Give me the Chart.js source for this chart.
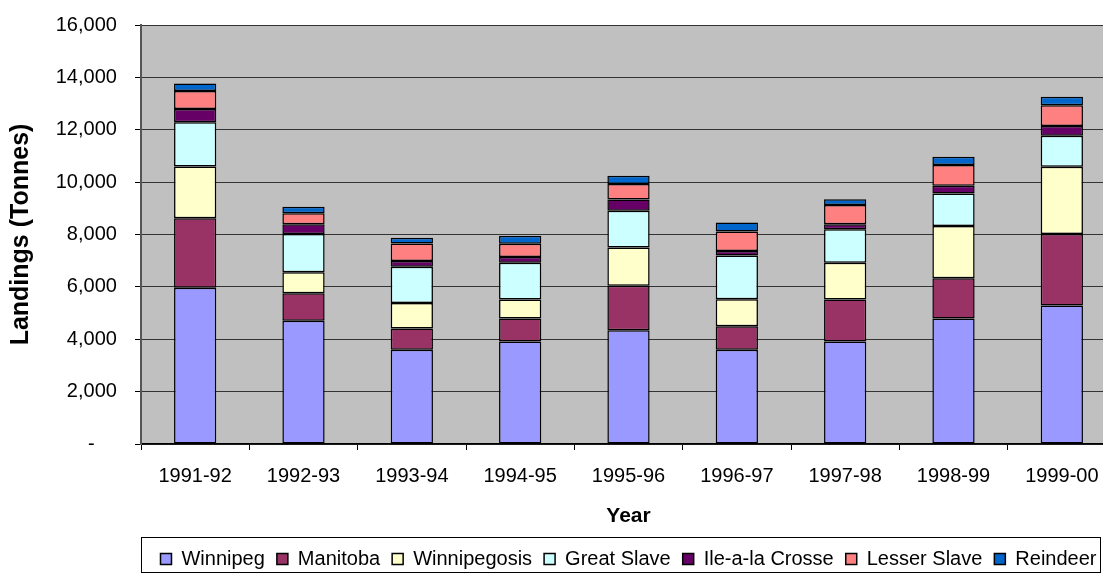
<!DOCTYPE html>
<html>
<head>
<meta charset="utf-8">
<script src="https://cdn.jsdelivr.net/npm/chart.js@4/dist/chart.umd.min.js"></script>
<style>
  body { margin: 0; background: #fff; overflow: hidden; }
  #wrap { width: 1103px; height: 581px; overflow: hidden; }
</style>
</head>
<body>
<div id="wrap"><canvas id="landings" width="1120" height="581"></canvas></div>
<script>
const years = ["1991-92", "1992-93", "1993-94", "1994-95", "1995-96", "1996-97", "1997-98", "1998-99", "1999-00"];

// tonnes per lake
const winnipeg     = [5970, 4710, 3600, 3910, 4340, 3600, 3910, 4790, 5290];
const manitoba     = [2650, 1050,  810,  880, 1700,  900, 1610, 1540, 2730];
const winnipegosis = [1980,  800,  970,  730, 1460, 1030, 1400, 1990, 2570];
const greatSlave   = [1690, 1460, 1390, 1400, 1410, 1670, 1280, 1250, 1180];
const ileALaCrosse = [ 500,  370,  220,  225,  430,  170,  190,  290,  370];
const lesserSlave  = [ 690,  420,  670,  500,  590,  740,  740,  790,  800];
const reindeer     = [ 290,  250,  220,  305,  310,  350,  220,  320,  320];

const yTicks = [0, 2000, 4000, 6000, 8000, 10000, 12000, 14000, 16000];

const FONT = "'Liberation Sans', Arial, sans-serif";

function series(label, data, color) {
  return {
    label: label,
    data: data,
    backgroundColor: color,
    borderColor: '#000',
    borderWidth: 1.5,
    borderSkipped: false,
    barPercentage: 1,
    categoryPercentage: 0.39
  };
}

const plotBg = {
  id: 'plotBg',
  beforeDraw(chart) {
    const a = chart.chartArea;
    const ctx = chart.ctx;
    ctx.save();
    ctx.fillStyle = '#C0C0C0';
    ctx.fillRect(a.left, a.top, a.right - a.left, a.bottom - a.top);
    ctx.restore();
  }
};

// the box Excel draws around the legend
const legendBox = {
  id: 'legendBox',
  afterDraw(chart) {
    const l = chart.legend;
    const ctx = chart.ctx;
    ctx.save();
    ctx.strokeStyle = '#000';
    ctx.lineWidth = 1;
    ctx.strokeRect(Math.round(chart.chartArea.left) + 0.5, Math.round(l.top) + 0.5, 1101 - Math.round(chart.chartArea.left) - 1, 35);
    ctx.restore();
  }
};

new Chart(document.getElementById('landings'), {
  type: 'bar',
  data: {
    labels: years,
    datasets: [
      series("Winnipeg", winnipeg, '#9999FF'),
      series("Manitoba", manitoba, '#993366'),
      series("Winnipegosis", winnipegosis, '#FFFFCC'),
      series("Great Slave", greatSlave, '#CCFFFF'),
      series("Ile-a-la Crosse", ileALaCrosse, '#660066'),
      series("Lesser Slave", lesserSlave, '#FF8080'),
      series("Reindeer", reindeer, '#0066CC')
    ]
  },
  options: {
    responsive: false,
    animation: false,
    layout: {
      autoPadding: false,
      padding: { top: 25, right: 4, left: 0, bottom: 2 }
    },
    plugins: {
      tooltip: { enabled: false },
      legend: {
        position: 'bottom',
        fullSize: false,
        labels: {
          boxWidth: 11,
          boxHeight: 11,
          padding: 12,
          color: '#000',
          font: { family: FONT, size: 20 }
        }
      }
    },
    scales: {
      x: {
        stacked: true,
        afterFit(scale) { scale.height = 93; },
        border: { display: true, color: '#000', width: 1.5 },
        grid: {
          display: true,
          drawOnChartArea: false,
          drawTicks: true,
          tickLength: 6,
          color: '#000'
        },
        ticks: {
          color: '#000',
          padding: 14,
          maxRotation: 0,
          font: { family: FONT, size: 20 }
        },
        title: {
          display: true,
          text: 'Year',
          color: '#000',
          padding: { top: 0, bottom: 8 },
          font: { family: FONT, size: 21, weight: 'bold' }
        }
      },
      y: {
        stacked: true,
        min: 0,
        max: 16000,
        afterFit(scale) { scale.width = 141; },
        afterBuildTicks(scale) { scale.ticks = yTicks.map(v => ({ value: v })); },
        border: { display: true, color: '#555', width: 2 },
        grid: {
          color: '#333',
          lineWidth: 1,
          drawTicks: true,
          tickLength: 6,
          tickColor: '#000'
        },
        ticks: {
          color: '#000',
          padding: 7,
          font: { family: FONT, size: 20 },
          // trailing spaces keep the labels clear of the axis like Excel's accounting format
          callback: v => v === 0 ? '-      ' : v.toLocaleString('en-US') + '  '
        },
        title: {
          display: true,
          text: 'Landings (Tonnes)',
          color: '#000',
          padding: { top: 6, bottom: 0 },
          font: { family: FONT, size: 25, weight: 'bold' }
        }
      }
    }
  },
  plugins: [plotBg, legendBox]
});
</script>
</body>
</html>
